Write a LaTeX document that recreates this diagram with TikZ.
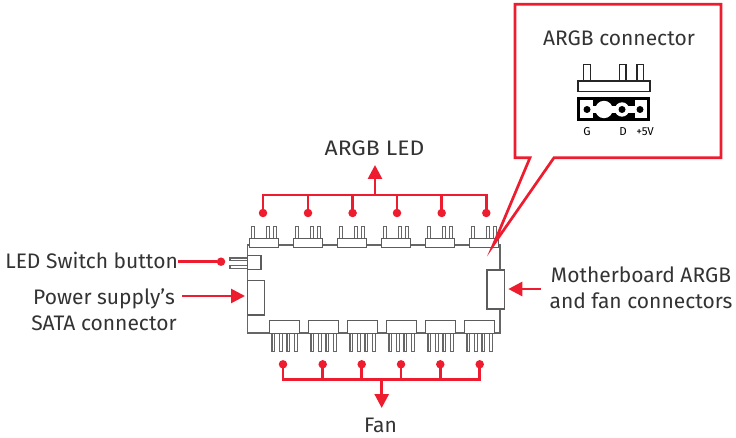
\documentclass[tikz,border=0pt]{standalone}
\usepackage{fontspec}
\setmainfont{Fira Sans}
\definecolor{mred}{HTML}{ED1C2E}
\definecolor{mink}{HTML}{333333}
\tikzset{
  label text/.style={text=mink,font=\fontsize{21}{26}\selectfont,align=center,inner sep=0pt},
  small text/.style={text=black,font=\fontsize{11.5}{13}\selectfont,inner sep=0pt},
  part/.style={draw=mink!80,line width=1.25pt,fill=white,inner sep=0pt,outer sep=0pt},
  boardline/.style={draw=mink!75,line width=1.25pt,inner sep=0pt,outer sep=0pt},
  pin/.style={draw=mink!75,line width=1.2pt,fill=white},
  lead/.style={draw=mred,line width=2.7pt},
  dotend/.style={circle,fill=mred,inner sep=0pt,minimum size=8.5pt},
  arrowed/.style={draw=mred,line width=2.7pt,-{Triangle[length=14pt,width=14pt]}},
}
\usetikzlibrary{arrows.meta,calc}
\begin{document}
\begin{tikzpicture}[x=1pt,y=-1pt]
\useasboundingbox (0,0) rectangle (736,438);
% board
\node[boardline,minimum width=252.3pt,minimum height=88pt,anchor=north west] (board) at (247.7,245) {};
% top connectors
\foreach \i/\x in {1/249.3,2/293.3,3/337.3,4/381.3,5/425.3,6/469.3}{
  \foreach \a in {2.3,17,24}{ \draw[pin] (\x+\a,226.7) rectangle (\x+\a+2.8,239); }
  \node[part,minimum width=29.5pt,minimum height=9.4pt,anchor=north west] (top\i) at (\x,238.3) {};
}
% bottom connectors
\foreach \i/\x in {1/269.7,2/308.7,3/347.7,4/386.7,5/425.7,6/464.7}{
  \foreach \a in {2.3,9.6,17.3,24.6}{ \draw[pin] (\x+\a,333) rectangle (\x+\a+2.8,351.3); }
  \node[part,minimum width=30pt,minimum height=13pt,anchor=north west] (bot\i) at (\x,320.3) {};
}
% left side parts
\draw[pin] (230,258) rectangle (248,260.4);
\draw[pin] (230,265.7) rectangle (248,268.3);
\node[part,minimum width=13.3pt,minimum height=14pt,anchor=north west] (switch) at (247.7,255.7) {};
\node[part,minimum width=17pt,minimum height=34.7pt,anchor=north west] (sata) at (247.7,280.3) {};
\node[part,minimum width=17.3pt,minimum height=39pt,anchor=north west] (mobo) at (487,270) {};
% callout
\coordinate (tailA) at (530,157.7);
\coordinate (tailB) at (554,157.7);
\coordinate (tailTip) at (493.3,245);
\coordinate (cTL) at (515,4.3);
\coordinate (cTR) at (721,4.3);
\coordinate (cBR) at (721,157.7);
\coordinate (cBL) at (515,157.7);
\draw[draw=mred,line width=2.7pt,line join=miter,miter limit=20] (cTL) -- (cTR) -- (cBR) -- (tailB) -- (tailTip) -- (tailA) -- (cBL) -- cycle;
\node[label text] (title) at (619,38) {ARGB connector};
% ARGB connector icon
\foreach \x in {583.7,619.3,637}{ \draw[draw=black!85,line width=1.4pt] (\x,64.5) rectangle (\x+6.6,81); }
\draw[draw=black!85,line width=1.5pt,fill=white] (578,81) rectangle (650,91.5);
\fill[black] (577,97) rectangle (650,121);
\fill[white] (580,100) rectangle (593,118);
\fill[white] (635,100) rectangle (647,118);
\fill[white] (590,106) rectangle (640,113);
\fill[white] (604,109.5) circle (8.7);
\fill[white] (622,109.5) circle (7.2);
\fill[black] (587,109.5) circle (3.5);
\fill[black] (622,109.5) circle (3.5);
\fill[black] (640,109.5) circle (3.5);
\node[small text] (pinG) at (587,132) {G};
\node[small text] (pinD) at (623,132) {D};
\node[small text] (pinV) at (645,132) {+5V};
% ARGB LED leads
\foreach \i/\x in {1/263,2/308,3/352.6,4/397,5/441.7,6/486.3}{
  \node[dotend] (t\i) at (\x,213) {};
}
\coordinate (tbarL) at (263,195);
\coordinate (tbarR) at (486.3,195);
\draw[lead,line join=miter] (t1.center) -- (tbarL) -- (tbarR) -- (t6.center);
\foreach \i in {2,3,4,5}{ \draw[lead] (t\i.center) -- (t\i.center |- tbarL); }
\node[label text,xscale=1.09] (argbled) at (374.5,148) {ARGB LED};
\coordinate (tstem) at (375,195);
\draw[arrowed] (tstem) -- (375,165);
% Fan leads
\foreach \i/\x in {1/283,2/322.7,3/361.7,4/401,5/440.3,6/479.7}{
  \node[dotend] (b\i) at (\x,364.3) {};
}
\coordinate (bbarL) at (283,379.3);
\coordinate (bbarR) at (479.7,379.3);
\draw[lead,line join=miter] (b1.center) -- (bbarL) -- (bbarR) -- (b6.center);
\foreach \i in {2,3,4,5}{ \draw[lead] (b\i.center) -- (b\i.center |- bbarL); }
\node[label text] (fan) at (380.5,425) {Fan};
\coordinate (bstem) at (381.7,379.3);
\draw[arrowed] (bstem) -- (381.7,408);
% LED switch
\node[label text,anchor=east] (ledsw) at (178,260.5) {LED Switch button};
\node[dotend] (swdot) at (221,261.7) {};
\draw[lead] (ledsw.east |- swdot) -- (swdot);
% SATA
\node[label text] (psu) at (104,310) {Power supply’s\\SATA connector};
\coordinate (psutail) at (182,296);
\draw[arrowed] (psutail) -- (245,296);
% Motherboard
\node[label text] (mb) at (641,288) {Motherboard ARGB\\and fan connectors};
\coordinate (mbtail) at (541,289);
\draw[arrowed] (mbtail) -- (508.3,289);
\end{tikzpicture}
\end{document}
